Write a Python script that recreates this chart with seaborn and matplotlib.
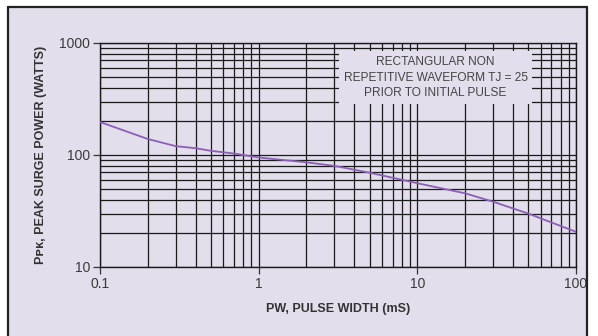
import matplotlib
matplotlib.use("Agg")
import matplotlib.pyplot as plt
import seaborn as sns
import pandas as pd
from matplotlib.lines import Line2D
from matplotlib.ticker import LogLocator, FixedLocator, NullFormatter

pulse_width_ms = [0.1, 0.2, 0.3, 0.4, 0.5, 0.7, 1, 2, 3, 5, 10, 20, 30, 50, 100]
peak_power_w = [197, 139, 120, 115, 109, 103, 95, 86, 80, 69.5, 56, 45.5, 38.3, 30, 20.6]
x_ticks = [0.1, 1, 10, 100]
x_tick_labels = ["0.1", "1", "10", "100"]
y_ticks = [10, 100, 1000]
y_tick_labels = ["10", "100", "1000"]
note_lines = ["RECTANGULAR NON", "REPETITIVE WAVEFORM TJ = 25", "PRIOR TO INITIAL PULSE"]

df = pd.DataFrame({"pw": pulse_width_ms, "ppk": peak_power_w})

sns.set_style("white")
plt.rcParams["font.family"] = ["Liberation Sans", "DejaVu Sans"]

bg = "#e3deeb"
fig = plt.figure(figsize=(5.98, 3.36), dpi=100, facecolor="white")
# panel background
fig.patches.append(matplotlib.patches.Rectangle((8/598, 0), (587-8)/598, 1-7/336,
                   transform=fig.transFigure, facecolor=bg, edgecolor="none", zorder=-10))
for (x0, y0, x1, y1) in [(8, 7, 587, 7), (8, 7, 8, 336), (587, 7, 587, 336)]:
    fig.add_artist(Line2D([x0/598, x1/598], [1-y0/336, 1-y1/336], color="#222222",
                          lw=1.6, transform=fig.transFigure))

ax = fig.add_axes([100/598, 1-267/336, (576-100)/598, (267-43)/336])
ax.set_facecolor(bg)
ax.set_xscale("log")
ax.set_yscale("log")
ax.set_xlim(0.1, 100)
ax.set_ylim(10, 1000)

sns.lineplot(data=df, x="pw", y="ppk", ax=ax, color="#8b5fb8", lw=1.3, zorder=3)

ax.xaxis.set_major_locator(FixedLocator(x_ticks))
ax.set_xticklabels(x_tick_labels)
ax.yaxis.set_major_locator(FixedLocator(y_ticks))
ax.set_yticklabels(y_tick_labels)
ax.xaxis.set_minor_locator(LogLocator(base=10, subs=range(2, 10)))
ax.yaxis.set_minor_locator(LogLocator(base=10, subs=range(2, 10)))
ax.xaxis.set_minor_formatter(NullFormatter())
ax.yaxis.set_minor_formatter(NullFormatter())
ax.grid(True, which="both", color="#1a1a1a", lw=0.9, zorder=1)
ax.set_axisbelow(True)
ax.tick_params(which="major", direction="out", length=5, width=0.9, color="#333333",
               labelsize=10, labelcolor="#3a3a3a", pad=2, bottom=True, left=True)
ax.tick_params(which="minor", length=0)
for s in ax.spines.values():
    s.set_color("#1a1a1a")
    s.set_linewidth(1.0)

ax.set_xlabel("PW, PULSE WIDTH (mS)", fontsize=9, fontweight="bold", color="#333333", labelpad=9)
ax.set_ylabel("Pᴘᴋ, PEAK SURGE POWER (WATTS)", fontsize=9, fontweight="bold", color="#333333", labelpad=9)

ax.text(0.705, 0.845, "\n".join(note_lines), transform=ax.transAxes, ha="center", va="center",
        fontsize=8.6, color="#444444", linespacing=1.4, zorder=5,
        bbox=dict(facecolor=bg, edgecolor="none", boxstyle="square,pad=0.4"))

fig.savefig("out.png", dpi=100, facecolor="white")
